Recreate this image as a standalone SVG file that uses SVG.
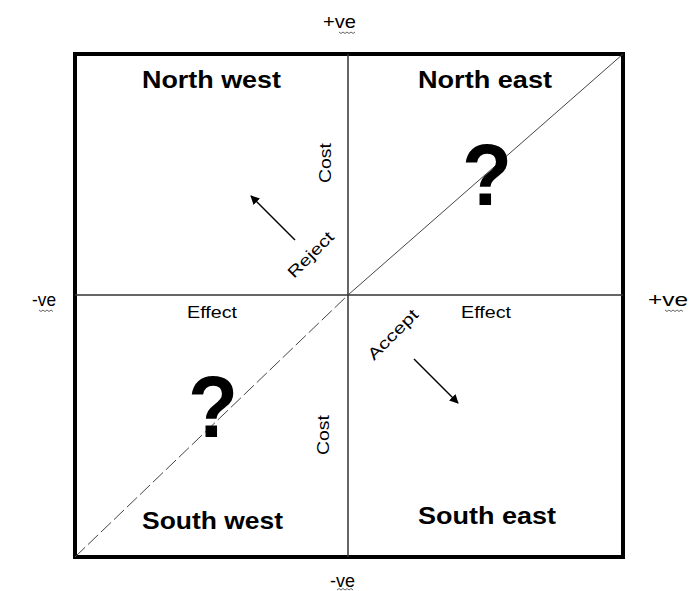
<svg xmlns="http://www.w3.org/2000/svg" width="691" height="591" viewBox="0 0 691 591">
<style>
.lbl{font-family:"Liberation Sans",Arial,sans-serif;font-size:19px;fill:#000}
.ax{font-family:"Liberation Sans",Arial,sans-serif;font-size:16px;fill:#000}
.q{font-family:"Liberation Sans",Arial,sans-serif;font-size:24px;font-weight:bold;fill:#000}
.big{font-family:"Liberation Sans",Arial,sans-serif;font-size:88px;font-weight:bold;fill:#000}
.sq{fill:none;stroke:#666;stroke-width:1}
</style>
<defs>
<marker id="ah" viewBox="0 0 10 10" refX="9" refY="5" markerWidth="9" markerHeight="9" orient="auto" markerUnits="userSpaceOnUse">
<path d="M0,0 L10,5 L0,10 z" fill="#000"/>
</marker>
</defs>
<rect width="691" height="591" fill="#fff"/>
<g id="frame">
<rect x="75" y="54" width="548" height="503" fill="none" stroke="#000" stroke-width="4"/>
</g>
<g id="connectors">
<line x1="348" y1="54" x2="348" y2="557" stroke="#333" stroke-width="1.5"/>
<line x1="75" y1="295" x2="623" y2="295" stroke="#333" stroke-width="1.5"/>
<line x1="348" y1="295" x2="623" y2="54" stroke="#444" stroke-width="1"/>
<line x1="75" y1="557" x2="348" y2="295" stroke="#444" stroke-width="1" stroke-dasharray="14,4"/>
<line x1="295" y1="240" x2="251" y2="196" stroke="#000" stroke-width="1.5" marker-end="url(#ah)"/>
<line x1="414" y1="359" x2="458" y2="403" stroke="#000" stroke-width="1.5" marker-end="url(#ah)"/>
</g>
<g id="nw"><text class="q" x="142" y="88" textLength="139" lengthAdjust="spacingAndGlyphs">North west</text></g>
<g id="ne"><text class="q" x="418" y="88" textLength="134" lengthAdjust="spacingAndGlyphs">North east</text>
<text class="big" x="462" y="205" textLength="50" lengthAdjust="spacingAndGlyphs">?</text></g>
<g id="sw"><text class="q" x="142" y="529" textLength="141" lengthAdjust="spacingAndGlyphs">South west</text>
<text class="big" x="188" y="437" textLength="50" lengthAdjust="spacingAndGlyphs">?</text></g>
<g id="se"><text class="q" x="418" y="524" textLength="138" lengthAdjust="spacingAndGlyphs">South east</text></g>
<g id="axis-labels">
<text class="lbl" x="323" y="28" textLength="33" lengthAdjust="spacingAndGlyphs">+ve</text>
<text class="lbl" x="32" y="306" textLength="24" lengthAdjust="spacingAndGlyphs">-ve</text>
<text class="lbl" x="648" y="306" textLength="40" lengthAdjust="spacingAndGlyphs">+ve</text>
<text class="lbl" x="330" y="587" textLength="25" lengthAdjust="spacingAndGlyphs">-ve</text>
<path class="sq" d="M339,32 l2,1.5 l2,-1.5 l2,1.5 l2,-1.5 l2,1.5 l2,-1.5 l2,1.5 l2,-1.5"/>
<path class="sq" d="M39,310 l2,1.5 l2,-1.5 l2,1.5 l2,-1.5 l2,1.5 l2,-1.5 l2,1.5"/>
<path class="sq" d="M665,310 l2,1.5 l2,-1.5 l2,1.5 l2,-1.5 l2,1.5 l2,-1.5 l2,1.5 l2,-1.5 l2,1.5"/>
<path class="sq" d="M337,590 l2,-1.5 l2,1.5 l2,-1.5 l2,1.5 l2,-1.5 l2,1.5 l2,-1.5 l2,1.5"/>
<text class="ax" x="187" y="318" textLength="50" lengthAdjust="spacingAndGlyphs">Effect</text>
<text class="ax" x="461" y="318" textLength="50" lengthAdjust="spacingAndGlyphs">Effect</text>
<text class="ax" transform="translate(331,183) rotate(-90)" textLength="40" lengthAdjust="spacingAndGlyphs">Cost</text>
<text class="ax" transform="translate(329,455) rotate(-90)" textLength="40" lengthAdjust="spacingAndGlyphs">Cost</text>
<text class="ax" transform="translate(294,279) rotate(-45)" textLength="58" lengthAdjust="spacingAndGlyphs">Reject</text>
<text class="ax" transform="translate(374,361) rotate(-45)" textLength="64" lengthAdjust="spacingAndGlyphs">Accept</text>
</g>
</svg>
